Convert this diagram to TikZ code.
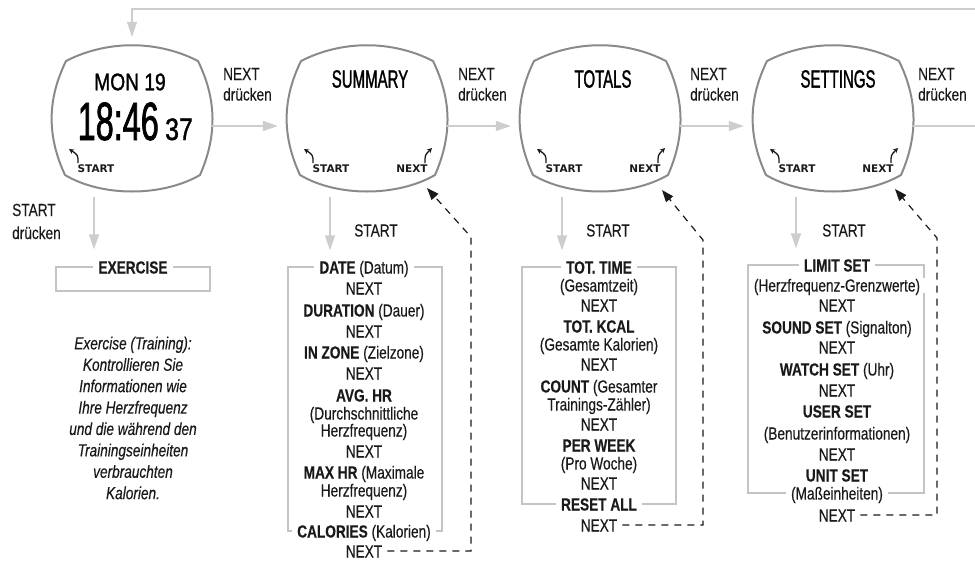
\documentclass[tikz,border=0pt]{standalone}
\usepackage{fontspec}
\setmainfont{Liberation Sans}[FakeStretch=0.78,FakeBold=0.35]
\newfontfamily\lcdw{Liberation Sans}[FakeStretch=0.8,FakeBold=1.2]
\newfontfamily\lcdn{Liberation Sans}[FakeStretch=0.6,FakeBold=1.2]
\newfontfamily\wfont{DejaVu Sans}
\usetikzlibrary{arrows.meta}
\definecolor{ink}{HTML}{1A1A1A}
\definecolor{gline}{HTML}{CDCDCD}
\definecolor{boxc}{HTML}{C4C4C4}
\definecolor{wline}{HTML}{8A8A8A}
\begin{document}
\begin{tikzpicture}[x=1pt,y=-1pt,
  txt/.style={font=\fontsize{17.5}{21}\selectfont, text=ink, inner xsep=5pt, inner ysep=1pt, text height=13pt, text depth=0pt},
  lst/.style={txt, fill=white},
  lbl/.style={txt, anchor=west, inner xsep=0pt},
  garr/.style={draw=gline, line width=1.4pt, -{Triangle[length=15pt,width=10pt,fill=gline]}},
  gline/.style={draw=gline, line width=1.4pt},
  boxl/.style={draw=boxc, line width=1.1pt},
  watch/.style={draw=wline, line width=2pt, line join=round},
  wlab/.style={font=\wfont\bfseries\fontsize{10.5}{12}\selectfont, text=ink, inner sep=0pt},
  warr/.style={draw=ink, line width=1.3pt, -{Stealth[length=5pt,width=5pt]}},
  dret/.style={draw=ink, line width=1.2pt, dash pattern=on 7pt off 6pt, -{Triangle[length=12pt,width=9pt]}}]
\useasboundingbox (0,0) rectangle (975,560);

% watches
\foreach \cx/\n in {132/1,367/2,600/3,833/4}{
  \draw[watch] ({\cx-66},61) .. controls ({\cx-25},40) and ({\cx+25},40) .. ({\cx+66},61)
    .. controls ({\cx+85},100) and ({\cx+85},136) .. ({\cx+68},175)
    .. controls ({\cx+30},197) and ({\cx-30},197) .. ({\cx-67},175)
    .. controls ({\cx-85},136) and ({\cx-85},100) .. cycle;
  \node[minimum width=160pt, minimum height=142pt, inner sep=0pt] (w\n) at (\cx,126) {};
  \node[wlab] (w\n-st) at ({\cx-36},169) {START};
  \draw[warr] ({\cx-54},163) .. controls ({\cx-54},155) .. ({\cx-63},149);
}
\foreach \cx/\n in {367/2,600/3,833/4}{
  \node[wlab] (w\n-nx) at ({\cx+45},169) {NEXT};
  \draw[warr] ({\cx+58},163) .. controls ({\cx+58},155) .. ({\cx+65},148);
}

% LCD texts
\node[text=black, inner sep=0pt, font=\lcdw\fontsize{24}{24}\selectfont] (mon) at (130,82) {MON 19};
\node[text=black, inner sep=0pt, anchor=base east, font=\lcdn\fontsize{54}{54}\selectfont] (time) at (159,140) {18:46};
\node[text=black, inner sep=0pt, anchor=base west, font=\lcdw\fontsize{31}{31}\selectfont] (sec) at (165,140) {37};
\node[text=black, inner sep=0pt, font=\lcdn\fontsize{25}{25}\selectfont] (sum) at (370,79) {SUMMARY};
\node[text=black, inner sep=0pt, font=\lcdn\fontsize{25}{25}\selectfont] (tot) at (603,79) {TOTALS};
\node[text=black, inner sep=0pt, font=\lcdn\fontsize{25}{25}\selectfont] (set) at (838,79) {SETTINGS};

% NEXT druecken labels
\foreach \x/\n in {223/1,458/2,690/3,918/4}{
  \node[lbl] (nx\n) at (\x,73.5) {NEXT};
  \node[lbl] (dr\n) at (\x,94) {drücken};
}

% top loop and horizontal arrows
\coordinate (loopR) at (975,9);
\coordinate (outR) at (975,126);
\draw[garr, shorten >=18pt] (loopR) -| (w1.north);
\draw[garr, shorten >=9pt] (w1.east) -- (w2.west);
\draw[garr, shorten >=9pt] (w2.east) -- (w3.west);
\draw[garr, shorten >=9pt] (w3.east) -- (w4.west);
\draw[gline] (w4.east) -- (outR);

% exercise
\node[lbl] (st1) at (12,209.5) {START};
\node[lbl] (st1b) at (12,232.5) {drücken};
\draw[boxl] (56,267) rectangle (210,291);
\node[lst] (ex) at (133,267) {\textbf{EXERCISE}};
\coordinate (a1) at ([xshift=-38pt]w1.south);
\draw[garr, shorten >=10pt] (a1) -- (a1 |- ex.north);
\node[txt, text height=, text depth=, align=center, font=\itshape\fontsize{17.5}{21.4}\selectfont] (desc) at (133,418)
  {Exercise (Training):\\Kontrollieren Sie\\Informationen wie\\Ihre Herzfrequenz\\und die während den\\Trainingseinheiten\\verbrauchten\\Kalorien.};

% summary list
\draw[boxl] (288,267) rectangle (442,531);
\foreach \t/\y [count=\i] in {{\textbf{DATE} (Datum)}/267, NEXT/288, {\textbf{DURATION} (Dauer)}/310, NEXT/331,
   {\textbf{IN ZONE} (Zielzone)}/352, NEXT/373, {\textbf{AVG. HR}}/395, {(Durchschnittliche}/413, {Herzfrequenz)}/430,
   NEXT/451, {\textbf{MAX HR} (Maximale}/472, {Herzfrequenz)}/490, NEXT/511, {\textbf{CALORIES} (Kalorien)}/531, NEXT/551}{
  \node[lst] (s\i) at (364,\y) {\t};
}
\node[txt] (st2) at (376,230) {START};
\coordinate (a2) at ([xshift=-37pt]w2.south);
\draw[garr, shorten >=9pt] (a2) -- (a2 |- s1.north);
\coordinate (r2c) at (471,237);
\coordinate (r2t) at (427,188);
\draw[dret] (s15.east) -| (r2c) -- (r2t);

% totals list
\draw[boxl] (522,267) rectangle (676,504);
\foreach \t/\y [count=\i] in {{\textbf{TOT. TIME}}/267, {(Gesamtzeit)}/285, NEXT/305, {\textbf{TOT. KCAL}}/326,
   {(Gesamte Kalorien)}/344, NEXT/364, {\textbf{COUNT} (Gesamter}/386, {Trainings-Zähler)}/404, NEXT/424,
   {\textbf{PER WEEK}}/445, {(Pro Woche)}/463, NEXT/483, {\textbf{RESET ALL}}/504, NEXT/525}{
  \node[lst] (t\i) at (599,\y) {\t};
}
\node[txt] (st3) at (608,230) {START};
\coordinate (a3) at ([xshift=-38pt]w3.south);
\draw[garr, shorten >=9pt] (a3) -- (a3 |- t1.north);
\coordinate (r3c) at (703,240);
\coordinate (r3t) at (662,190);
\draw[dret] (t14.east) -| (r3c) -- (r3t);

% settings list
\draw[boxl] (748,265) rectangle (924,493);
\foreach \t/\y [count=\i] in {{\textbf{LIMIT SET}}/265, {(Herzfrequenz-Grenzwerte)}/285, NEXT/305,
   {\textbf{SOUND SET} (Signalton)}/327, NEXT/347, {\textbf{WATCH SET} (Uhr)}/369, NEXT/390,
   {\textbf{USER SET}}/411, {(Benutzerinformationen)}/433, NEXT/454, {\textbf{UNIT SET}}/475,
   {(Maßeinheiten)}/493, NEXT/515}{
  \node[lst] (u\i) at (837,\y) {\t};
}
\node[txt] (st4) at (844,230) {START};
\coordinate (a4) at ([xshift=-37pt]w4.south);
\draw[garr, shorten >=9pt] (a4) -- (a4 |- u1.north);
\coordinate (r4c) at (937,238);
\coordinate (r4t) at (895,189);
\draw[dret] (u13.east) -| (r4c) -- (r4t);
\end{tikzpicture}
\end{document}
